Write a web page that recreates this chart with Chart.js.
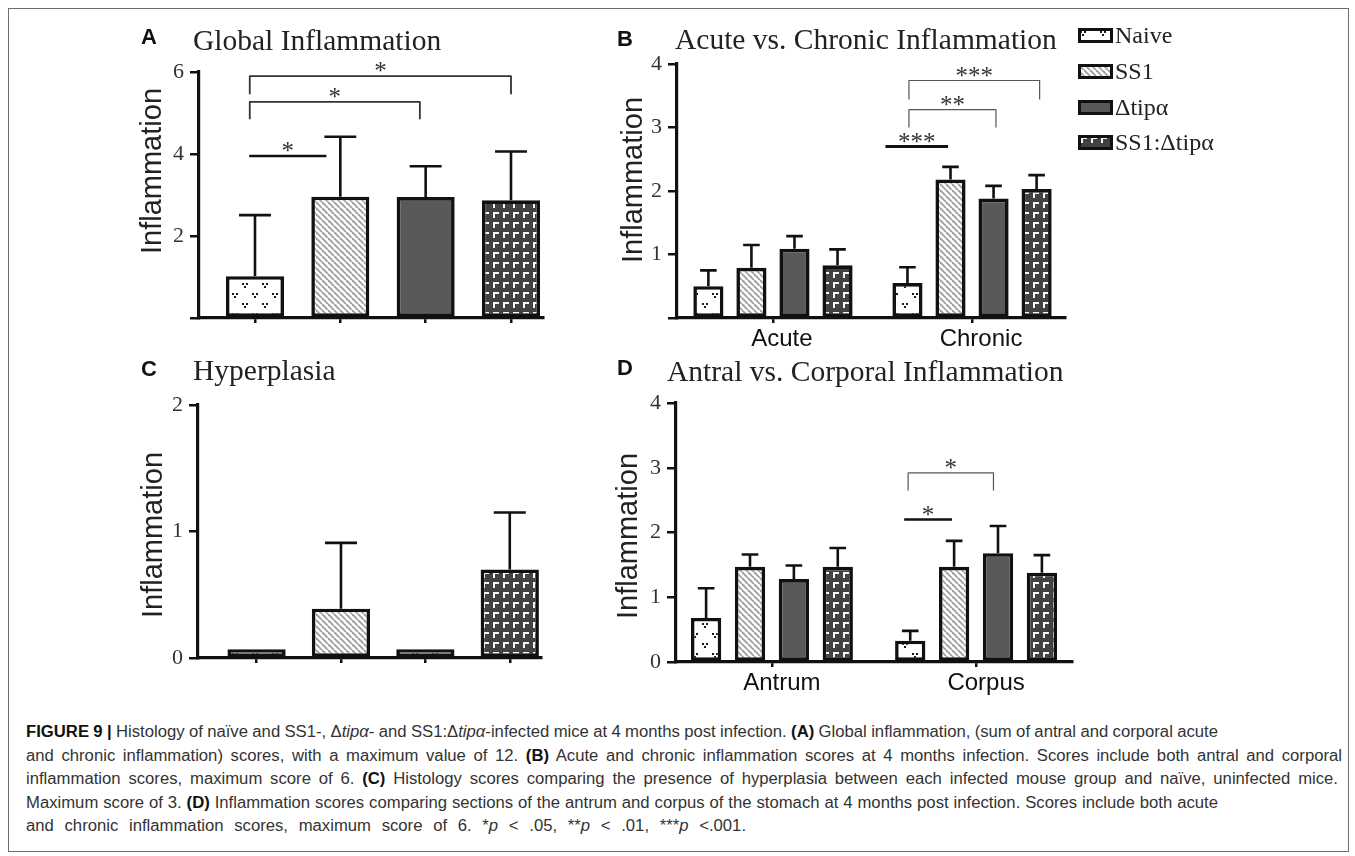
<!DOCTYPE html>
<html><head><meta charset="utf-8">
<script src="https://cdn.jsdelivr.net/npm/chart.js@4.4.1/dist/chart.umd.min.js"></script>
<style>
html,body{margin:0;padding:0;background:#fff;}
body{width:1355px;height:856px;position:relative;overflow:hidden;}
.frame{position:absolute;left:8px;top:8px;width:1341px;height:844px;border:1px solid #6e6e6e;box-sizing:border-box;}
canvas.c{position:absolute;}
.t{position:absolute;white-space:nowrap;line-height:1;}
.lbl{font-family:"Liberation Sans",Arial,sans-serif;font-weight:bold;font-size:22px;color:#111;}
.ttl{font-family:"Liberation Serif","Times New Roman",serif;font-size:29.5px;color:#222;}
.ytl{position:absolute;font-family:"Liberation Sans",Arial,sans-serif;font-size:29px;color:#222;white-space:nowrap;line-height:1;transform:translate(-50%,-50%) rotate(-90deg);}
.leg{font-family:"Liberation Serif","Times New Roman",serif;font-size:24px;color:#222;}
.cap{position:absolute;left:26px;white-space:nowrap;font-family:"Liberation Sans",Arial,sans-serif;color:#333;line-height:23px;transform-origin:0 50%;}
.cap b{color:#111;}
</style>
</head>
<body>
<div class="frame"></div>
<canvas class="c" id="cA" width="460" height="310" style="left:100px;top:40px"></canvas>
<canvas class="c" id="cB" width="500" height="310" style="left:580px;top:40px"></canvas>
<canvas class="c" id="cC" width="460" height="310" style="left:100px;top:380px"></canvas>
<canvas class="c" id="cD" width="500" height="320" style="left:580px;top:380px"></canvas>

<div class="ytl" style="left:151px;top:171px">Inflammation</div>
<div class="ytl" style="left:632px;top:180px">Inflammation</div>
<div class="ytl" style="left:152px;top:535px">Inflammation</div>
<div class="ytl" style="left:627px;top:536px">Inflammation</div>

<div id="caption">
<div class="cap" style="top:720px"><b>FIGURE 9 |</b> Histology of naïve and SS1-, Δ<i>tipα</i>- and SS1:Δ<i>tipα</i>-infected mice at 4 months post infection. <b>(A)</b> Global inflammation, (sum of antral and corporal acute</div>
<div class="cap" style="top:743.5px">and chronic inflammation) scores, with a maximum value of 12. <b>(B)</b> Acute and chronic inflammation scores at 4 months infection. Scores include both antral and corporal</div>
<div class="cap" style="top:767px">inflammation scores, maximum score of 6. <b>(C)</b> Histology scores comparing the presence of hyperplasia between each infected mouse group and naïve, uninfected mice.</div>
<div class="cap" style="top:790.5px">Maximum score of 3. <b>(D)</b> Inflammation scores comparing sections of the antrum and corpus of the stomach at 4 months post infection. Scores include both acute</div>
<div class="cap" style="top:814px">and chronic inflammation scores, maximum score of 6. *<i>p</i> &lt; .05, **<i>p</i> &lt; .01, ***<i>p</i> &lt;.001.</div>
</div>

<script>
// ---------------- DATA ----------------
const seriesNames = ['Naive', 'SS1', 'Δtipα', 'SS1:Δtipα'];

// Panel A: Global Inflammation
const globalMean = [1.02, 2.96, 2.95, 2.87];
const globalErr  = [2.51, 4.42, 3.70, 4.06];
const globalYTicks = [0, 2, 4, 6];
const globalSig = [
  {from: [0, 0], to: [0, 1], y: 3.95, label: '*'},
  {from: [0, 0], to: [0, 2], y: 5.27, drop: 4.85, label: '*'},
  {from: [0, 0], to: [0, 3], y: 5.90, drop: 5.46, label: '*'}
];

// Panel B: Acute vs. Chronic Inflammation
const acuteChronicCats = ['Acute', 'Chronic'];
const acNaive    = [0.50, 0.55], acNaiveErr    = [0.75, 0.80];
const acSS1      = [0.79, 2.18], acSS1Err      = [1.15, 2.38];
const acTip      = [1.09, 1.88], acTipErr      = [1.29, 2.08];
const acSS1Tip   = [0.83, 2.03], acSS1TipErr   = [1.08, 2.25];
const acYTicks = [0, 1, 2, 3, 4];
const acSig = [
  {from: [0, 1], to: [1, 1], y: 2.70, label: '***'},
  {from: [0, 1], to: [2, 1], y: 3.28, drop: 3.00, label: '**'},
  {from: [0, 1], to: [3, 1], y: 3.74, drop: 3.44, label: '***'}
];

// Panel C: Hyperplasia
const hyperMean = [0.07, 0.39, 0.07, 0.70];
const hyperErr  = [0.07, 0.91, 0.07, 1.15];
const hyperYTicks = [0, 1, 2];

// Panel D: Antral vs. Corporal Inflammation
const regionCats = ['Antrum', 'Corpus'];
const rgNaive  = [0.68, 0.33], rgNaiveErr  = [1.14, 0.48];
const rgSS1    = [1.47, 1.47], rgSS1Err    = [1.66, 1.87];
const rgTip    = [1.28, 1.68], rgTipErr    = [1.49, 2.10];
const rgSS1Tip = [1.47, 1.38], rgSS1TipErr = [1.76, 1.65];
const rgYTicks = [0, 1, 2, 3, 4];
const rgSig = [
  {from: [0, 1], to: [1, 1], y: 2.20, label: '*'},
  {from: [0, 1], to: [2, 1], y: 2.92, drop: 2.65, label: '*'}
];

// ---------------- PATTERNS ----------------
function makeTile(w, h, draw) {
  const c = document.createElement('canvas'); c.width = w; c.height = h;
  draw(c.getContext('2d'), w, h); return c;
}
const naiveTile = makeTile(20, 20, g => {
  g.fillStyle = '#fff'; g.fillRect(0, 0, 20, 20); g.fillStyle = '#1a1a1a';
  const mark = (x, y) => { g.fillRect(x - 3, y - 2, 2, 2); g.fillRect(x + 1, y - 2, 2, 2); g.fillRect(x - 1, y + 1, 2, 2); };
  mark(5, 5); mark(15, 15);
});
const ss1Tile = makeTile(6, 6, g => {
  g.fillStyle = '#fff'; g.fillRect(0, 0, 6, 6);
  g.strokeStyle = '#a0a0a0'; g.lineWidth = 1.9;
  [-6, 0, 6].forEach(o => { g.beginPath(); g.moveTo(o, 0); g.lineTo(o + 6, 6); g.stroke(); });
});
const ss1TipTile = makeTile(10, 10, g => {
  g.fillStyle = '#424242'; g.fillRect(0, 0, 10, 10);
  g.fillStyle = '#f6f6f6';
  g.fillRect(3, 2, 6, 2); g.fillRect(3, 2, 2, 6);
});
const pctx = document.createElement('canvas').getContext('2d');
const fills = {
  naive: pctx.createPattern(naiveTile, 'repeat'),
  ss1: pctx.createPattern(ss1Tile, 'repeat'),
  tip: '#595959',
  ss1tip: pctx.createPattern(ss1TipTile, 'repeat')
};
const fillOrder = [fills.naive, fills.ss1, fills.tip, fills.ss1tip];
const BORDER = 3.6;

// ---------------- PLUGINS ----------------
const errorPlugin = {
  id: 'errorBars',
  afterDatasetsDraw(chart) {
    const ctx = chart.ctx, ys = chart.scales.y;
    chart.data.datasets.forEach((ds, di) => {
      const meta = chart.getDatasetMeta(di);
      meta.data.forEach((bar, i) => {
        const top = ds.errTop[i], val = ds.data[i].y;
        if (top == null || top <= val) return;
        const y1 = ys.getPixelForValue(top), cap = bar.width * 0.55 / 2;
        ctx.save();
        ctx.strokeStyle = '#111'; ctx.lineWidth = 2.6; ctx.lineCap = 'butt';
        ctx.beginPath(); ctx.moveTo(bar.x, bar.y); ctx.lineTo(bar.x, y1);
        ctx.moveTo(bar.x - cap, y1); ctx.lineTo(bar.x + cap, y1); ctx.stroke();
        ctx.restore();
      });
    });
  }
};
const sigPlugin = {
  id: 'sig',
  afterDraw(chart, args, opts) {
    const items = opts.items || [], nudges = opts.nudges || [];
    const ctx = chart.ctx, ys = chart.scales.y;
    items.forEach((it, k) => {
      const n = nudges[k] || [0, 0];
      const b1 = chart.getDatasetMeta(it.from[0]).data[it.from[1]];
      const b2 = chart.getDatasetMeta(it.to[0]).data[it.to[1]];
      const x1 = b1.x + n[0] * b1.width, x2 = b2.x + n[1] * b2.width;
      const y = ys.getPixelForValue(it.y);
      ctx.save();
      ctx.lineJoin = 'round';
      ctx.beginPath();
      if (it.drop != null) {
        const yd = ys.getPixelForValue(it.drop);
        ctx.strokeStyle = opts.bracketColor; ctx.lineWidth = opts.bracketWidth;
        ctx.moveTo(x1, yd); ctx.lineTo(x1, y); ctx.lineTo(x2, y); ctx.lineTo(x2, yd);
      } else {
        ctx.strokeStyle = '#111'; ctx.lineWidth = opts.plainWidth;
        ctx.moveTo(x1, y); ctx.lineTo(x2, y);
      }
      ctx.stroke();
      ctx.fillStyle = '#333';
      ctx.font = '25px "Liberation Serif", "Times New Roman", serif';
      ctx.textAlign = 'center'; ctx.textBaseline = 'alphabetic';
      ctx.fillText(it.label, (x1 + x2) / 2, y + opts.starDy);
      ctx.restore();
    });
  }
};

// ---------------- CHART BUILDER ----------------
function buildChart(id, cfg) {
  return new Chart(document.getElementById(id), {
    type: 'bar',
    data: {datasets: cfg.datasets},
    options: {
      responsive: false, animation: false, events: [],
      layout: {padding: cfg.pad},
      plugins: {
        legend: {display: false}, tooltip: {enabled: false},
        sig: Object.assign({items: [], nudges: [], bracketColor: '#444', bracketWidth: 1.3, plainWidth: 2.8, starDy: 3}, cfg.sig || {})
      },
      scales: {
        x: {
          type: 'linear', offset: false, min: cfg.xmin, max: cfg.xmax,
          afterBuildTicks: s => { s.ticks = cfg.xLabels.map((_, i) => ({value: i})); },
          afterFit: s => { s.height = cfg.xh; },
          grid: {display: true, offset: false, drawOnChartArea: false, drawTicks: true, tickLength: 5,
                 tickColor: '#111', tickWidth: 2.5, color: '#111', lineWidth: 2.5},
          border: {display: true, color: '#111', width: 3.2},
          ticks: {autoSkip: false, maxRotation: 0, minRotation: 0, padding: 2, labelOffset: cfg.labelOffset || 0,
                  color: '#111', font: {family: '"Liberation Sans", Arial, sans-serif', size: 24},
                  callback: v => (cfg.xLabels[v] !== undefined ? cfg.xLabels[v] : '')}
        },
        y: {
          type: 'linear', min: 0, max: cfg.ymax,
          afterBuildTicks: s => { s.ticks = cfg.yTicks.map(v => ({value: v})); },
          afterFit: s => { s.width = cfg.yw; },
          grid: {display: true, drawOnChartArea: false, drawTicks: true, tickLength: 9,
                 tickColor: '#111', tickWidth: 2.5, color: '#111', lineWidth: 2.5},
          border: {display: true, color: '#111', width: 3.2},
          ticks: {padding: 6, color: '#333', font: {family: '"Liberation Serif", "Times New Roman", serif', size: 22},
                  callback: v => (cfg.hideZero && v === 0 ? '' : String(v))}
        }
      }
    },
    plugins: [errorPlugin, sigPlugin]
  });
}
function pts(vals) { return vals.map((v, i) => ({x: i, y: v})); }
function groupedSets(list, cp, bp) {
  return list.map((s, k) => ({
    label: seriesNames[k], data: pts(s[0]), errTop: s[1],
    backgroundColor: fillOrder[k], borderColor: '#111', borderWidth: BORDER, borderSkipped: false,
    categoryPercentage: cp, barPercentage: bp
  }));
}

// Panel A
buildChart('cA', {
  datasets: [{label: 'Global', data: pts(globalMean), errTop: globalErr,
    backgroundColor: fillOrder, borderColor: '#111', borderWidth: BORDER, borderSkipped: false,
    categoryPercentage: 1, barPercentage: 0.68}],
  xLabels: ['', '', '', ''], xmin: -0.656, xmax: 3.375, ymax: 6, yTicks: globalYTicks, hideZero: true,
  pad: {top: 32, right: 17, left: 0, bottom: 0}, yw: 99, xh: 32,
  sig: {items: globalSig, nudges: [[-0.1, -0.24], [-0.09, -0.1], [-0.09, 0]], bracketColor: '#333', bracketWidth: 1.8, plainWidth: 2.5}
});

// Panel B
buildChart('cB', {
  datasets: groupedSets([[acNaive, acNaiveErr], [acSS1, acSS1Err], [acTip, acTipErr], [acSS1Tip, acSS1TipErr]], 0.865, 0.70),
  xLabels: acuteChronicCats, labelOffset: 9, xmin: -0.482, xmax: 1.467, ymax: 4, yTicks: acYTicks, hideZero: true,
  pad: {top: 24, right: 15, left: 0, bottom: 0}, yw: 97, xh: 32,
  sig: {items: acSig, nudges: [[-0.73, -0.08], [0.05, 0.08], [0.05, 0.1]], bracketColor: '#555', bracketWidth: 1.2, plainWidth: 3}
});

// Panel C
buildChart('cC', {
  datasets: [{label: 'Hyperplasia', data: pts(hyperMean), errTop: hyperErr,
    backgroundColor: [fills.naive, fills.ss1, fills.naive, fills.ss1tip], borderColor: '#111', borderWidth: BORDER, borderSkipped: false,
    categoryPercentage: 1, barPercentage: 0.69}],
  xLabels: ['', '', '', ''], xmin: -0.694, xmax: 3.37, ymax: 2, yTicks: hyperYTicks, hideZero: false,
  pad: {top: 25, right: 19, left: 0, bottom: 0}, yw: 98, xh: 32
});

// Panel D
buildChart('cD', {
  datasets: groupedSets([[rgNaive, rgNaiveErr], [rgSS1, rgSS1Err], [rgTip, rgTipErr], [rgSS1Tip, rgSS1TipErr]], 0.86, 0.69),
  xLabels: regionCats, labelOffset: 10, xmin: -0.47, xmax: 1.47, ymax: 4, yTicks: rgYTicks, hideZero: false,
  pad: {top: 23, right: 8, left: 0, bottom: 0}, yw: 96, xh: 38,
  sig: {items: rgSig, nudges: [[-0.2, -0.07], [-0.07, -0.15]], bracketColor: '#555', bracketWidth: 1.2, plainWidth: 2.6}
});

// ---------------- TEXT PLACEMENT ----------------
function placeText(cls, html, x, baseline, fs, k) {
  const d = document.createElement('div');
  d.className = 't ' + cls; d.innerHTML = html;
  d.style.left = x + 'px'; d.style.top = (baseline - k * fs) + 'px';
  document.body.appendChild(d); return d;
}
const KS = 0.8465, KR = 0.8375;
placeText('lbl', 'A', 141, 45, 22, KS);
placeText('ttl', 'Global Inflammation', 193, 51, 29.5, KR);
placeText('lbl', 'B', 617, 47, 22, KS);
placeText('ttl', 'Acute vs. Chronic Inflammation', 675, 50, 29.5, KR);
placeText('lbl', 'C', 141, 377, 22, KS);
placeText('ttl', 'Hyperplasia', 193, 381, 29.5, KR);
placeText('lbl', 'D', 617, 376, 22, KS);
placeText('ttl', 'Antral vs. Corporal Inflammation', 667, 382, 29.5, KR);

// Legend
const legendBaselines = [43, 79, 115, 150];
seriesNames.forEach((name, k) => {
  const c = document.createElement('canvas');
  c.width = 35; c.height = 15; c.className = 'c';
  c.style.left = '1078px'; c.style.top = (legendBaselines[k] - 15) + 'px';
  const g = c.getContext('2d');
  g.fillStyle = fillOrder[k]; g.fillRect(0, 0, 35, 15);
  g.strokeStyle = '#111'; g.lineWidth = 3; g.strokeRect(1.5, 1.5, 32, 12);
  document.body.appendChild(c);
  placeText('leg', name, 1115, legendBaselines[k], 24, KR);
});

// Caption: condensed look, each line fitted to the width seen in the figure
const capTargets = [1218, 1342, 1338, 1218, 746];
const lines = Array.from(document.querySelectorAll('.cap'));
const capFs = 16;
lines.forEach(l => { l.style.fontSize = capFs + 'px'; });
const nat = lines.map(l => l.getBoundingClientRect().width);
const sx = ((capTargets[0] - 26) / nat[0] + (capTargets[3] - 26) / nat[3]) / 2;
lines.forEach((l, i) => {
  const spaces = (l.textContent.match(/ /g) || []).length;
  const need = (capTargets[i] - 26) / sx - nat[i];
  l.style.wordSpacing = (need / spaces) + 'px';
  l.style.transform = 'scaleX(' + sx + ')';
});
</script>
</body></html>
